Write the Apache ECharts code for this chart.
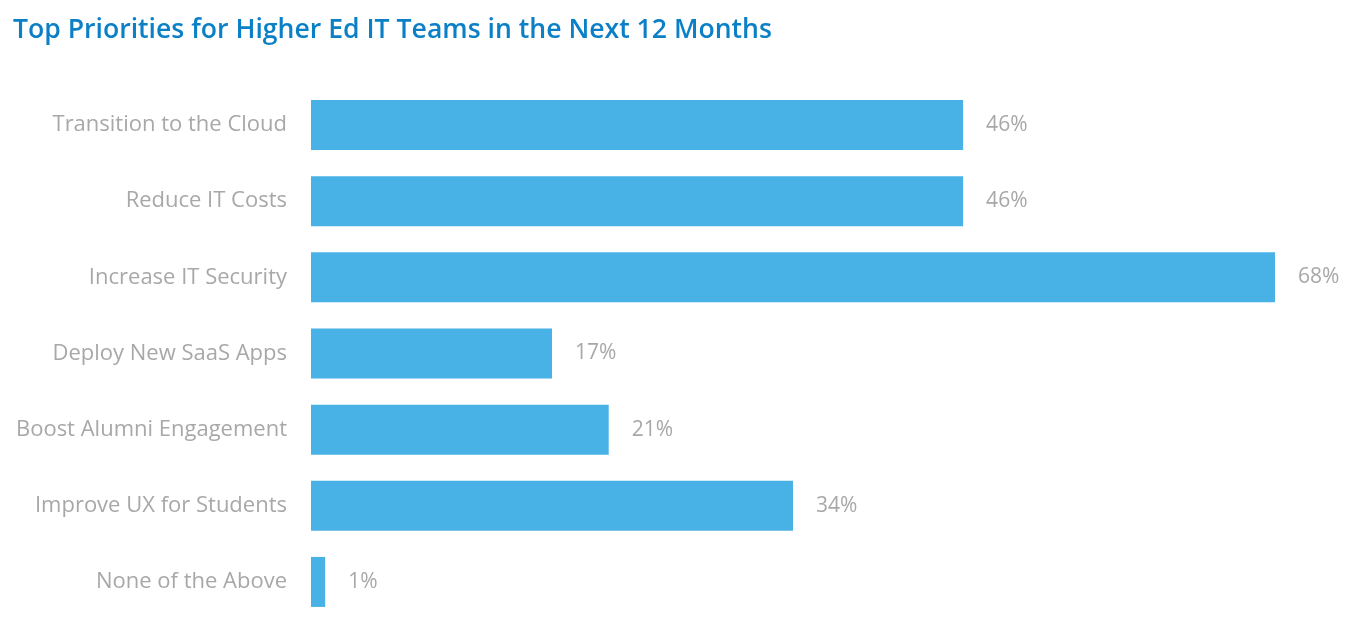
<!DOCTYPE html>
<html>
<head>
<meta charset="utf-8">
<script src="https://cdn.jsdelivr.net/npm/echarts@6/dist/echarts.min.js"></script>
<style>html,body{margin:0;padding:0;background:#fff;}#c{width:1360px;height:642px;}</style>
</head>
<body>
<div id="c"></div>
<script>
const categories = ["Transition to the Cloud","Reduce IT Costs","Increase IT Security","Deploy New SaaS Apps","Boost Alumni Engagement","Improve UX for Students","None of the Above"];
const values = [46, 46, 68, 17, 21, 34, 1];
const titleText = "Top Priorities for Higher Ed IT Teams in the Next 12 Months";

const chart = echarts.init(document.getElementById('c'), null, {renderer: 'canvas'});
chart.setOption({
  animation: false,
  backgroundColor: '#fff',
  title: {
    text: titleText,
    left: 8, top: 12,
    textStyle: {fontFamily: 'Open Sans', fontSize: 26.6, fontWeight: 600, color: '#0b80c6'}
  },
  grid: {left: 311, right: 85, top: 87, bottom: 22, containLabel: false},
  xAxis: {type: 'value', min: 0, max: 68, show: false},
  yAxis: {
    type: 'category', data: categories, inverse: true,
    axisLine: {show: false}, axisTick: {show: false},
    axisLabel: {margin: 24, color: '#a8a8a8', fontFamily: 'Open Sans', fontSize: 22, padding: [4, 0, 0, 0]}
  },
  series: [{
    type: 'bar', data: values, barWidth: 50,
    itemStyle: {color: '#48b2e6'},
    label: {show: true, position: 'right', distance: 23, formatter: '{c}%', color: '#a8a8a8', fontFamily: 'Open Sans', fontSize: 21, padding: [4, 0, 0, 0]}
  }]
});
</script>
</body>
</html>
